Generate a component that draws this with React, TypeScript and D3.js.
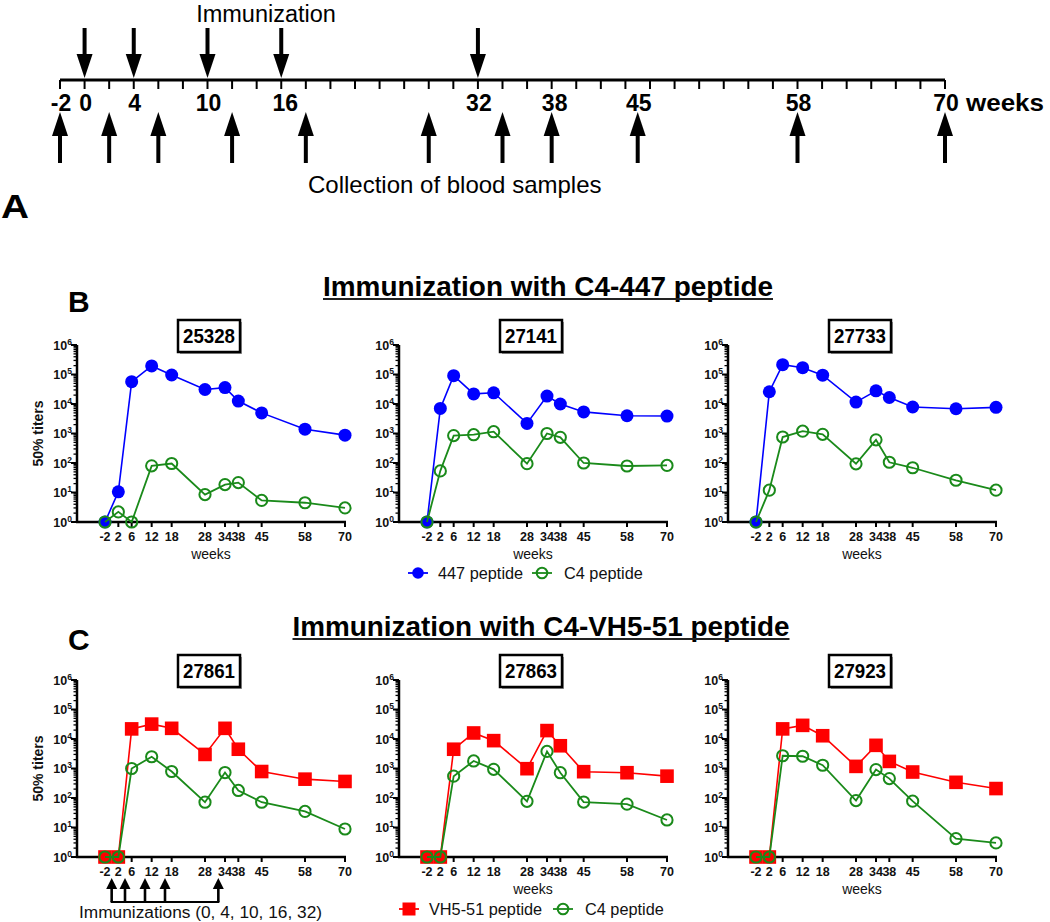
import React from 'react';
import * as d3 from 'd3';

// ---------- Panel A data ----------
const timelineLabels = [-2, 0, 4, 10, 16, 32, 38, 45, 58, 70];
const immunizationWeeks = [0, 4, 10, 16, 32];
const collectionWeeks = [-2, 2, 6, 12, 18, 28, 34, 38, 45, 58, 70];

// ---------- Panels B / C data ----------
const sampleWeeks = [-2, 2, 6, 12, 18, 28, 34, 38, 45, 58, 70];
const yTickExponents = [0, 1, 2, 3, 4, 5, 6];

const animalsB = ['25328', '27141', '27733'];
const animalsC = ['27861', '27863', '27923'];

const b447_25328 = [1, 10.5, 57000, 195000, 96000, 31000, 36000, 12600, 5000, 1400, 880];
const bC4_25328 = [1, 2.2, 1, 80, 96, 8.5, 18.5, 21.7, 5.4, 4.5, 3.0];
const b447_27141 = [1, 7100, 91000, 22000, 24000, 2200, 18500, 10000, 5400, 4000, 3900];
const bC4_27141 = [1, 54, 850, 910, 1150, 95, 1000, 740, 100, 79, 83];
const b447_27733 = [1, 26000, 215000, 170000, 95000, 11600, 28000, 16600, 7900, 6900, 7700];
const bC4_27733 = [1, 12, 760, 1200, 940, 94, 610, 106, 69, 26, 12];

const cVH_27861 = [1, 1, 22000, 32000, 23000, 3000, 23000, 4500, 790, 435, 364];
const cC4_27861 = [1, 1, 1000, 2500, 790, 72, 730, 180, 72, 35, 8.9];
const cVH_27863 = [1, 1, 4500, 16000, 8800, 985, 19300, 5900, 780, 720, 550];
const cC4_27863 = [1, 1, 550, 1800, 935, 77, 3800, 720, 73, 62, 18];
const cVH_27923 = [1, 1, 22000, 29000, 12900, 1180, 6100, 1740, 760, 340, 209];
const cC4_27923 = [1, 1, 2700, 2600, 1290, 82, 920, 455, 78, 4.2, 3.0];

const seriesB = [
  [b447_25328, bC4_25328],
  [b447_27141, bC4_27141],
  [b447_27733, bC4_27733],
];
const seriesC = [
  [cVH_27861, cC4_27861],
  [cVH_27863, cC4_27863],
  [cVH_27923, cC4_27923],
];

const titleB = 'Immunization with C4-447 peptide';
const titleC = 'Immunization with C4-VH5-51 peptide';
const legendB = ['447 peptide', 'C4 peptide'];
const legendC = ['VH5-51 peptide', 'C4 peptide'];

const FONT = "'Liberation Sans', Arial, Helvetica, sans-serif";
const BLUE = '#0000ff';
const GREEN = '#1a8a1a';
const RED = '#ff0000';

const axisXs = [77, 399, 728];

function DownArrow({ x, y1, y2 }: { x: number; y1: number; y2: number }) {
  const hh = 24, hw = 8;
  return (
    <g>
      <line x1={x} x2={x} y1={y1} y2={y2 - hh + 2} stroke="#000" strokeWidth={4} />
      <path d={`M${x - hw},${y2 - hh} L${x + hw},${y2 - hh} L${x},${y2} Z`} fill="#000" />
    </g>
  );
}
function UpArrow({ x, y1, y2 }: { x: number; y1: number; y2: number }) {
  const hh = 24, hw = 8;
  return (
    <g>
      <line x1={x} x2={x} y1={y1 + hh - 2} y2={y2} stroke="#000" strokeWidth={4} />
      <path d={`M${x - hw},${y1 + hh} L${x + hw},${y1 + hh} L${x},${y1} Z`} fill="#000" />
    </g>
  );
}

function PanelA() {
  const xA = d3.scaleLinear().domain([-2, 70]).range([60, 945]);
  const minor = d3.range(-2, 71, 2);
  return (
    <g fontFamily={FONT}>
      <text x={266} y={22} textAnchor="middle" fontSize={23.5}>Immunization</text>
      {immunizationWeeks.map((w) => (
        <DownArrow key={'d' + w} x={xA(w)} y1={28} y2={78} />
      ))}
      <line x1={xA(-2)} x2={xA(70)} y1={80} y2={80} stroke="#000" strokeWidth={3} />
      {minor.map((w) => (
        <line key={'t' + w} x1={xA(w)} x2={xA(w)} y1={80} y2={89} stroke="#000" strokeWidth={2} />
      ))}
      {timelineLabels.map((w) => (
        <text key={'l' + w} x={xA(w) + (w === 16 ? 4 : w === 38 ? 3 : 1)} y={111} textAnchor="middle" fontSize={23} fontWeight="bold">
          {w}
        </text>
      ))}
      <text x={966} y={111} fontSize={23} fontWeight="bold" textLength={78} lengthAdjust="spacingAndGlyphs">weeks</text>
      {collectionWeeks.map((w) => (
        <UpArrow key={'u' + w} x={xA(w)} y1={112} y2={163} />
      ))}
      <text x={308} y={193} fontSize={24}>Collection of blood samples</text>
      <text x={1} y={218} fontSize={33} fontWeight="bold" textLength={28} lengthAdjust="spacingAndGlyphs">A</text>
    </g>
  );
}

type SubProps = {
  ax: number;
  top: number;
  animal: string;
  s1: number[];
  s2: number[];
  variant: 'B' | 'C';
  yLabel: boolean;
  weeksLabel: boolean;
  immArrows: boolean;
};

function Subplot({ ax, top, animal, s1, s2, variant, yLabel, weeksLabel, immArrows }: SubProps) {
  const y = d3.scaleLog().domain([1, 1e6]).range([top + 177, top]);
  const x = d3.scaleLinear().domain([-10.4, 70]).range([ax, ax + 268]);
  const y0 = y(1);
  const xEnd = x(70);
  const cx = (ax + xEnd) / 2 - 2;
  const line = d3.line<[number, number]>();
  const p1: [number, number][] = sampleWeeks.map((w, i) => [x(w), y(s1[i])]);
  const p2: [number, number][] = sampleWeeks.map((w, i) => [x(w), y(s2[i])]);
  const c1 = variant === 'B' ? BLUE : RED;
  const ticks = y.ticks();
  return (
    <g fontFamily={FONT}>
      {/* animal box */}
      <rect x={cx - 31 + 2} y={top - 25 + 2} width={62} height={32} fill="#9a9a9a" />
      <rect x={cx - 31} y={top - 25} width={62} height={32} fill="#fff" stroke="#000" strokeWidth={2.5} />
      <text x={cx} y={top - 2} textAnchor="middle" fontSize={21} fontWeight="bold" textLength={52} lengthAdjust="spacingAndGlyphs">
        {animal}
      </text>
      {/* y axis */}
      <line x1={ax} x2={ax} y1={y0 + 1} y2={y(1e6)} stroke="#000" strokeWidth={2.5} />
      {ticks.map((v, i) => {
        const major = Math.abs(Math.log10(v) - Math.round(Math.log10(v))) < 1e-9;
        return (
          <line key={'yt' + i} x1={ax - (major ? 6 : 3.5)} x2={ax} y1={y(v)} y2={y(v)} stroke="#000" strokeWidth={major ? 2 : 1.3} />
        );
      })}
      {yTickExponents.map((e) => (
        <text key={'yl' + e} x={ax - 5} y={y(Math.pow(10, e)) + 4.5} textAnchor="end" fontSize={12.5} fontWeight="bold" fill="#111">
          <tspan>10</tspan>
          <tspan dy={-5} fontSize={8.5}>{e}</tspan>
        </text>
      ))}
      {yLabel && (
        <text transform={`translate(${ax - 34},${(y0 + y(1e6)) / 2}) rotate(-90)`} textAnchor="middle" fontSize={14} fontWeight="bold" fill="#111">
          50% titers
        </text>
      )}
      {/* x axis */}
      <line x1={ax - 1} x2={xEnd + 1} y1={y0} y2={y0} stroke="#000" strokeWidth={2.5} />
      {sampleWeeks.map((w) => (
        <line key={'xt' + w} x1={x(w)} x2={x(w)} y1={y0} y2={y0 + 5} stroke="#000" strokeWidth={2} />
      ))}
      {sampleWeeks.map((w) => (
        <text key={'xl' + w} x={x(w)} y={y0 + 19} textAnchor="middle" fontSize={12.5} fontWeight="bold" fill="#111">
          {w}
        </text>
      ))}
      {weeksLabel && (
        <text x={(ax + xEnd) / 2} y={y0 + 37} textAnchor="middle" fontSize={14} fill="#111">
          weeks
        </text>
      )}
      {/* series 1 */}
      <path d={line(p1) || ''} fill="none" stroke={c1} strokeWidth={1.6} />
      {p1.map(([px, py], i) =>
        variant === 'B' ? (
          <circle key={'m1' + i} cx={px} cy={py} r={6.5} fill={c1} />
        ) : (
          <rect key={'m1' + i} x={px - 6.8} y={py - 6.8} width={13.6} height={13.6} fill={c1} />
        )
      )}
      {/* series 2 */}
      <path d={line(p2) || ''} fill="none" stroke={GREEN} strokeWidth={1.8} />
      {p2.map(([px, py], i) => (
        <circle key={'m2' + i} cx={px} cy={py} r={5.6} fill="none" stroke={GREEN} strokeWidth={2} />
      ))}
      {immArrows && (
        <g>
          {immunizationWeeks.map((w) => {
            const xx = x(w);
            return (
              <g key={'ia' + w}>
                <line x1={xx} x2={xx} y1={y0 + 30} y2={y0 + 45} stroke="#000" strokeWidth={2.6} />
                <path d={`M${xx - 5.5},${y0 + 32} L${xx + 5.5},${y0 + 32} L${xx},${y0 + 21} Z`} fill="#000" />
              </g>
            );
          })}
          <line x1={x(0) - 1} x2={x(32) + 1} y1={y0 + 45} y2={y0 + 45} stroke="#000" strokeWidth={2} />
          <text x={ax + 2} y={y0 + 61} fontSize={17.3} fill="#111">
            Immunizations (0, 4, 10, 16, 32)
          </text>
        </g>
      )}
    </g>
  );
}

function Legend({ y, xs, variant }: { y: number; xs: [number, number]; variant: 'B' | 'C' }) {
  const [x1, x2] = xs;
  const labels = variant === 'B' ? legendB : legendC;
  const c1 = variant === 'B' ? BLUE : RED;
  return (
    <g fontFamily={FONT} fontSize={16.3} fill="#111">
      <line x1={x1 - 10} x2={x1 + 10} y1={y} y2={y} stroke={c1} strokeWidth={1.8} />
      {variant === 'B' ? (
        <circle cx={x1} cy={y} r={5.8} fill={c1} />
      ) : (
        <rect x={x1 - 6.5} y={y - 6.5} width={13} height={13} fill={c1} />
      )}
      <text x={x1 + 20} y={y + 6}>{labels[0]}</text>
      <line x1={x2 - 10} x2={x2 + 10} y1={y} y2={y} stroke={GREEN} strokeWidth={1.8} />
      <circle cx={x2} cy={y} r={5.3} fill="none" stroke={GREEN} strokeWidth={2} />
      <text x={x2 + 22} y={y + 6}>{labels[1]}</text>
    </g>
  );
}

function Title({ text, cx, y, width }: { text: string; cx: number; y: number; width: number }) {
  return (
    <g fontFamily={FONT}>
      <text x={cx} y={y} textAnchor="middle" fontSize={28} fontWeight="bold" textLength={width} lengthAdjust="spacingAndGlyphs">
        {text}
      </text>
      <line x1={cx - width / 2} x2={cx + width / 2} y1={y + 3} y2={y + 3} stroke="#222" strokeWidth={2} />
    </g>
  );
}

export default function App() {
  return (
    <svg width={1050} height={922} style={{ position: 'absolute', left: 0, top: 0, background: '#fff' }}>
      <rect x={0} y={0} width={1050} height={922} fill="#fff" />
      <PanelA />
      {/* Panel B */}
      <text x={68} y={312} fontFamily={FONT} fontSize={30} fontWeight="bold">B</text>
      <Title text={titleB} cx={548} y={296} width={450} />
      {animalsB.map((a, i) => (
        <Subplot key={a} ax={axisXs[i]} top={345} animal={a} s1={seriesB[i][0]} s2={seriesB[i][1]} variant="B" yLabel={i === 0} weeksLabel={true} immArrows={false} />
      ))}
      <Legend y={573} xs={[418, 542]} variant="B" />
      {/* Panel C */}
      <text x={68} y={650} fontFamily={FONT} fontSize={30} fontWeight="bold">C</text>
      <Title text={titleC} cx={541} y={636} width={497} />
      {animalsC.map((a, i) => (
        <Subplot key={a} ax={axisXs[i]} top={680} animal={a} s1={seriesC[i][0]} s2={seriesC[i][1]} variant="C" yLabel={i === 0} weeksLabel={i !== 0} immArrows={i === 0} />
      ))}
      <Legend y={909} xs={[409, 563]} variant="C" />
    </svg>
  );
}
